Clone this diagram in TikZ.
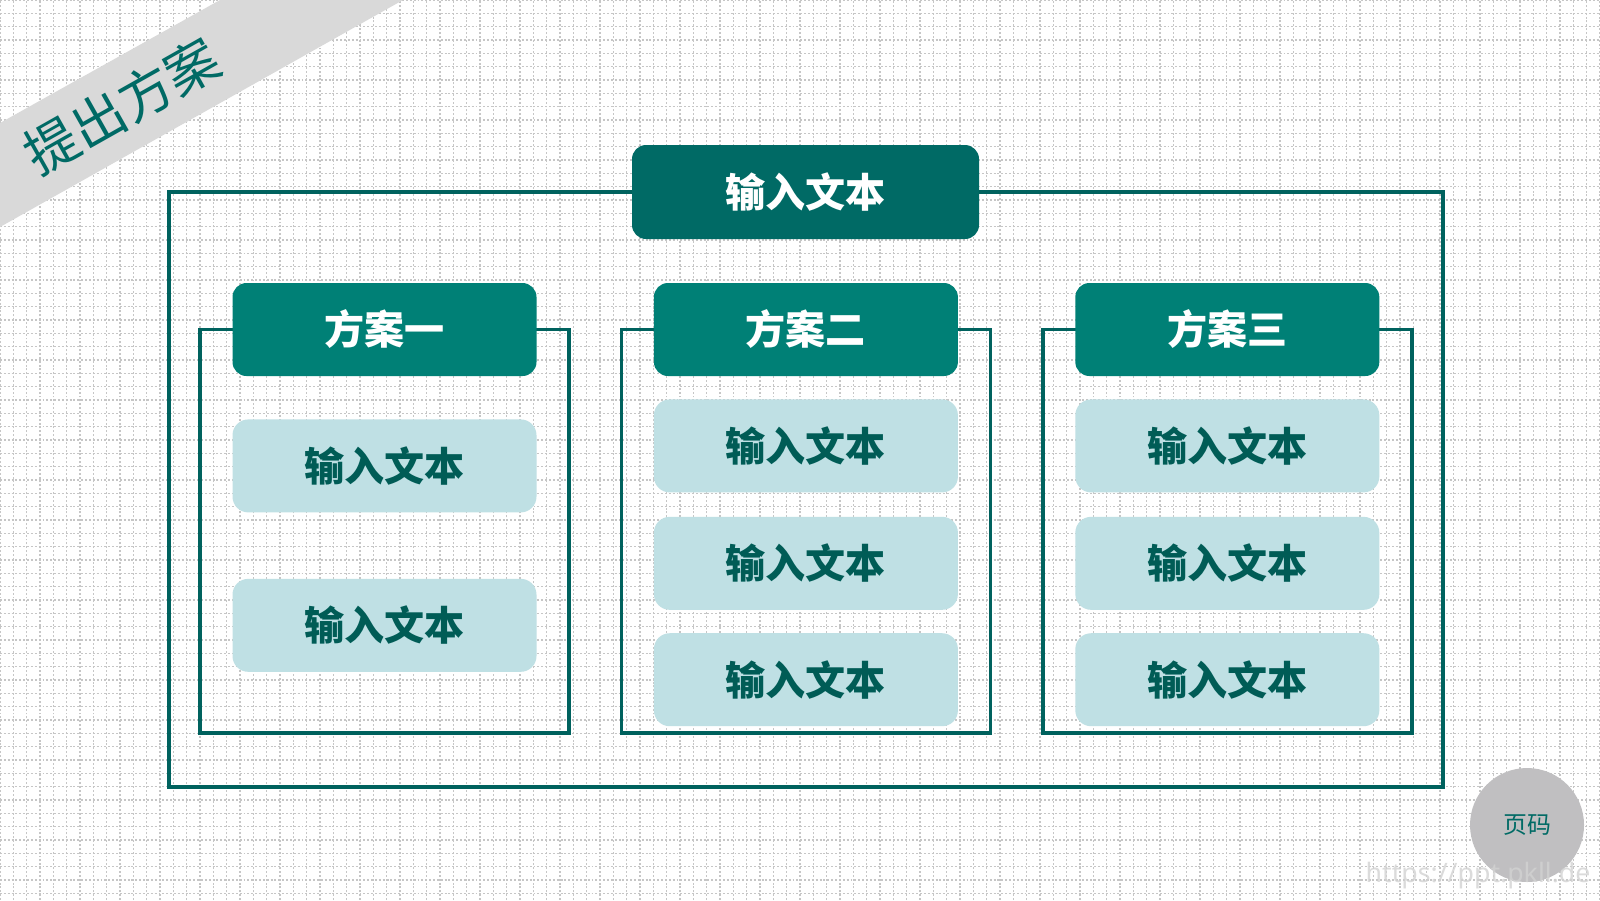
\documentclass[tikz,border=0pt]{standalone}
\usepackage{fontspec}
\newfontfamily\cjk{Noto Sans CJK SC}
\newfontfamily\wmfont{Noto Sans}
\usetikzlibrary{positioning, calc, backgrounds}
\definecolor{topteal}{RGB}{0,106,101}
\definecolor{headteal}{RGB}{0,128,118}
\definecolor{frameteal}{RGB}{0,98,94}
\definecolor{itemblue}{RGB}{191,224,228}
\definecolor{itemteal}{RGB}{0,92,86}
\definecolor{bandgray}{RGB}{217,217,217}
\definecolor{pagegray}{RGB}{192,191,193}
\tikzset{
  gridline/.style={draw=gray!45, line width=0.3pt, dash pattern=on 0.55pt off 0.55pt},
  frameline/.style={draw=frameteal, line width=1pt},
  topbox/.style={
    rectangle, rounded corners=4pt,
    minimum width=3.47cm, minimum height=0.94cm,
    fill=topteal, text=white,
    font=\cjk\bfseries\fontsize{11.4}{13}\selectfont
  },
  headbox/.style={
    rectangle, rounded corners=4pt,
    minimum width=3.04cm, minimum height=0.93cm,
    fill=headteal, text=white,
    font=\cjk\bfseries\fontsize{11.4}{13}\selectfont
  },
  itembox/.style={
    rectangle, rounded corners=4.5pt,
    minimum width=3.04cm, minimum height=0.93cm,
    fill=itemblue, text=itemteal,
    font=\cjk\bfseries\fontsize{11.4}{13}\selectfont
  },
  bannertext/.style={text=topteal, font=\cjk\fontsize{15.2}{18}\selectfont},
  pagecircle/.style={
    circle, minimum size=1.14cm, fill=pagegray, text=topteal,
    font=\cjk\fontsize{6.8}{8}\selectfont
  },
  watermark/.style={text=gray!35, opacity=0.8, font=\wmfont\bfseries\fontsize{7.6}{9}\selectfont},
}

\begin{document}
\begin{tikzpicture}
  \useasboundingbox (0,0) rectangle (16,-9);

  % Background grid
  \begin{scope}[on background layer]
    \fill[white] (0,0) rectangle (16,-9);
    \draw[gridline, step=0.13333] (0,-9) grid (16,0);
  \end{scope}

  % Title band
  \fill[bandgray] (0,-1.23) -- (2.20,0) -- (4.03,0) -- (0,-2.27) -- cycle;
  \node[bannertext, rotate=29.4] (title) at (1.22,-1.06) {提出方案};

  % Top node
  \node[topbox] (top) at (8.055,-1.92) {输入文本};

  % Column heads
  \node[headbox] (plan1) at (3.845,-3.295) {方案一};
  \node[headbox, right=1.16cm of plan1] (plan2) {方案二};
  \node[headbox, right=1.16cm of plan2] (plan3) {方案三};

  % Items
  \node[itembox, below=0.42cm of plan1] (plan1a) {输入文本};
  \node[itembox, below=0.65cm of plan1a] (plan1b) {输入文本};

  \node[itembox, below=0.22cm of plan2] (plan2a) {输入文本};
  \node[itembox, below=0.23cm of plan2a] (plan2b) {输入文本};
  \node[itembox, below=0.22cm of plan2b] (plan2c) {输入文本};

  \node[itembox, below=0.22cm of plan3] (plan3a) {输入文本};
  \node[itembox, below=0.23cm of plan3a] (plan3b) {输入文本};
  \node[itembox, below=0.22cm of plan3b] (plan3c) {输入文本};

  % Frames behind the heads
  \begin{scope}[on background layer]
    \draw[frameline] ($(top.center)+(-6.365,0)$) rectangle ($(top.center)+(6.375,-5.95)$);
    \foreach \p in {plan1,plan2,plan3}
      \draw[frameline] ($(\p.center)+(-1.845,0)$) rectangle ($(\p.center)+(1.845,-4.035)$);
  \end{scope}

  % Page number
  \node[pagecircle] (page) at (15.27,-8.25) {页码};
  \node[watermark] (wm) at (14.78,-8.76) {https://ppt.pkll.de};

\end{tikzpicture}
\end{document}
